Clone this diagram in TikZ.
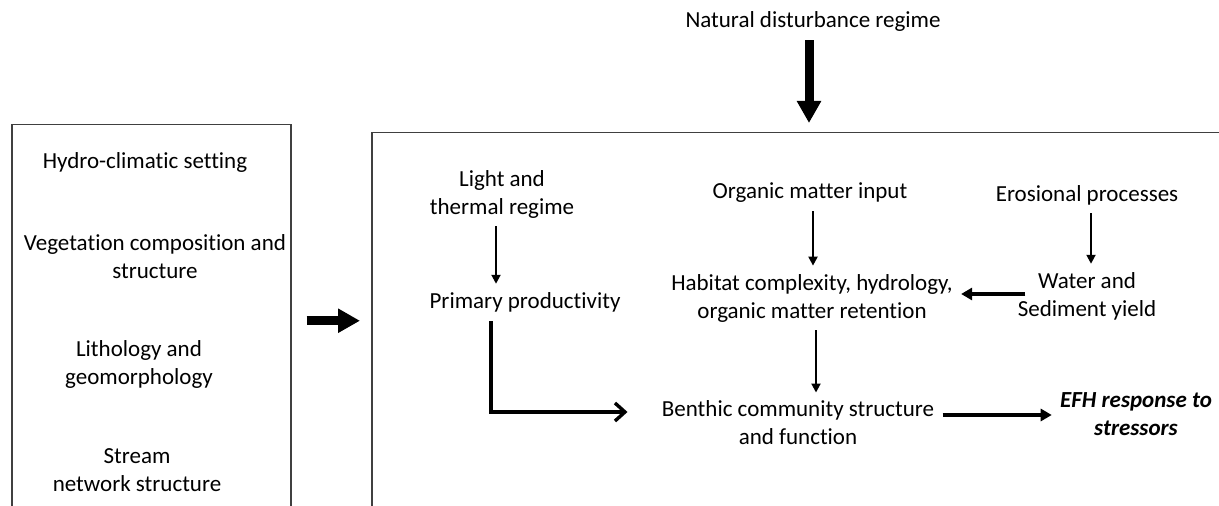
\documentclass[tikz,border=0pt]{standalone}
\usepackage{fontspec}
\setmainfont{Carlito}[Ligatures=NoCommon]
\usetikzlibrary{positioning,calc,arrows.meta}

\tikzset{
    lbl/.style={align=center, inner sep=4pt, font=\fontsize{11.5}{14}\selectfont},
    panel/.style={draw=black!75, line width=0.75pt, minimum width=#1, minimum height=200pt, anchor=north west, inner sep=0pt},
    bigarr/.style={line width=4.5pt, -{Triangle[width=11.5pt,length=11pt]}},
    medarr/.style={line width=2pt, -{Triangle[width=6pt,length=5.5pt]}},
    barbarr/.style={line width=1.7pt, line cap=rect, -{Straight Barb[width=9pt,length=5pt]}},
    thinarr/.style={line width=1pt, -{Triangle[width=4.5pt,length=4.5pt]}}
}

\begin{document}
\begin{tikzpicture}[x=0.5pt, y=-0.5pt]
    \clip (0,0) rectangle (1219,506);
    \fill[white] (0,0) rectangle (1219,506);

    % boxes
    \node[panel=139.5pt] (envbox) at (11,124) {};
    \node[panel=440pt] (ehbox) at (371,132) {};

    % setting factors
    \node[lbl] (hydro) at (145,162) {Hydro-climatic setting};
    \node[lbl] (veg) at (155,257) {Vegetation composition and\\structure};
    \node[lbl] (litho) at (139,364) {Lithology and\\geomorphology};
    \node[lbl] (stream) at (137,470) {Stream\\network structure};

    \node[lbl] (natural) at (813,22) {Natural disturbance regime};

    % processes
    \node[lbl] (light) at (502,194) {Light and\\thermal regime};
    \node[lbl] (primary) at (525,302) {Primary productivity};
    \node[lbl] (organic) at (810,193) {Organic matter input};
    \node[lbl] (habitat) at (812,298) {Habitat complexity, hydrology,\\organic matter retention};
    \node[lbl] (erosion) at (1087,195) {Erosional processes};
    \node[lbl] (water) at (1087,296) {Water and\\Sediment yield};
    \node[lbl] (benthic) at (798,423) {Benthic community structure\\and function};
    \node[lbl, font=\fontsize{11.5}{14}\selectfont\bfseries\itshape] (efh) at (1136,414) {EFH response to\\stressors};

    % arrows
    \draw[bigarr, shorten >=4.5pt] ([xshift=-2pt]natural.south) -- ([xshift=-2pt]natural.south |- ehbox.north);
    \draw[bigarr] ([xshift=7.5pt,yshift=2pt]envbox.east) -- ([xshift=-5.5pt,yshift=2pt]envbox.east -| ehbox.west);

    \draw[thinarr] ([xshift=-3pt]light.south) -- ([xshift=-3pt]light.south |- primary.north);
    \draw[thinarr] ([xshift=1.5pt]organic.south) -- ([xshift=1.5pt]organic.south |- habitat.north);
    \draw[thinarr] ([xshift=2pt]erosion.south) -- ([xshift=2pt]erosion.south |- water.north);
    \draw[thinarr] ([xshift=2pt]habitat.south) -- ([xshift=2pt]habitat.south |- benthic.north);

    \draw[medarr] ([xshift=8pt,yshift=1pt]water.west) -- ([yshift=1pt]water.west -| habitat.east);
    \draw[medarr] ([yshift=4pt]benthic.east) -- ([yshift=4pt]benthic.east -| efh.west);
    \draw[barbarr] ([xshift=-17pt,yshift=-1pt]primary.south) |- ([xshift=-13pt,yshift=5.5pt]benthic.west);
\end{tikzpicture}
\end{document}
